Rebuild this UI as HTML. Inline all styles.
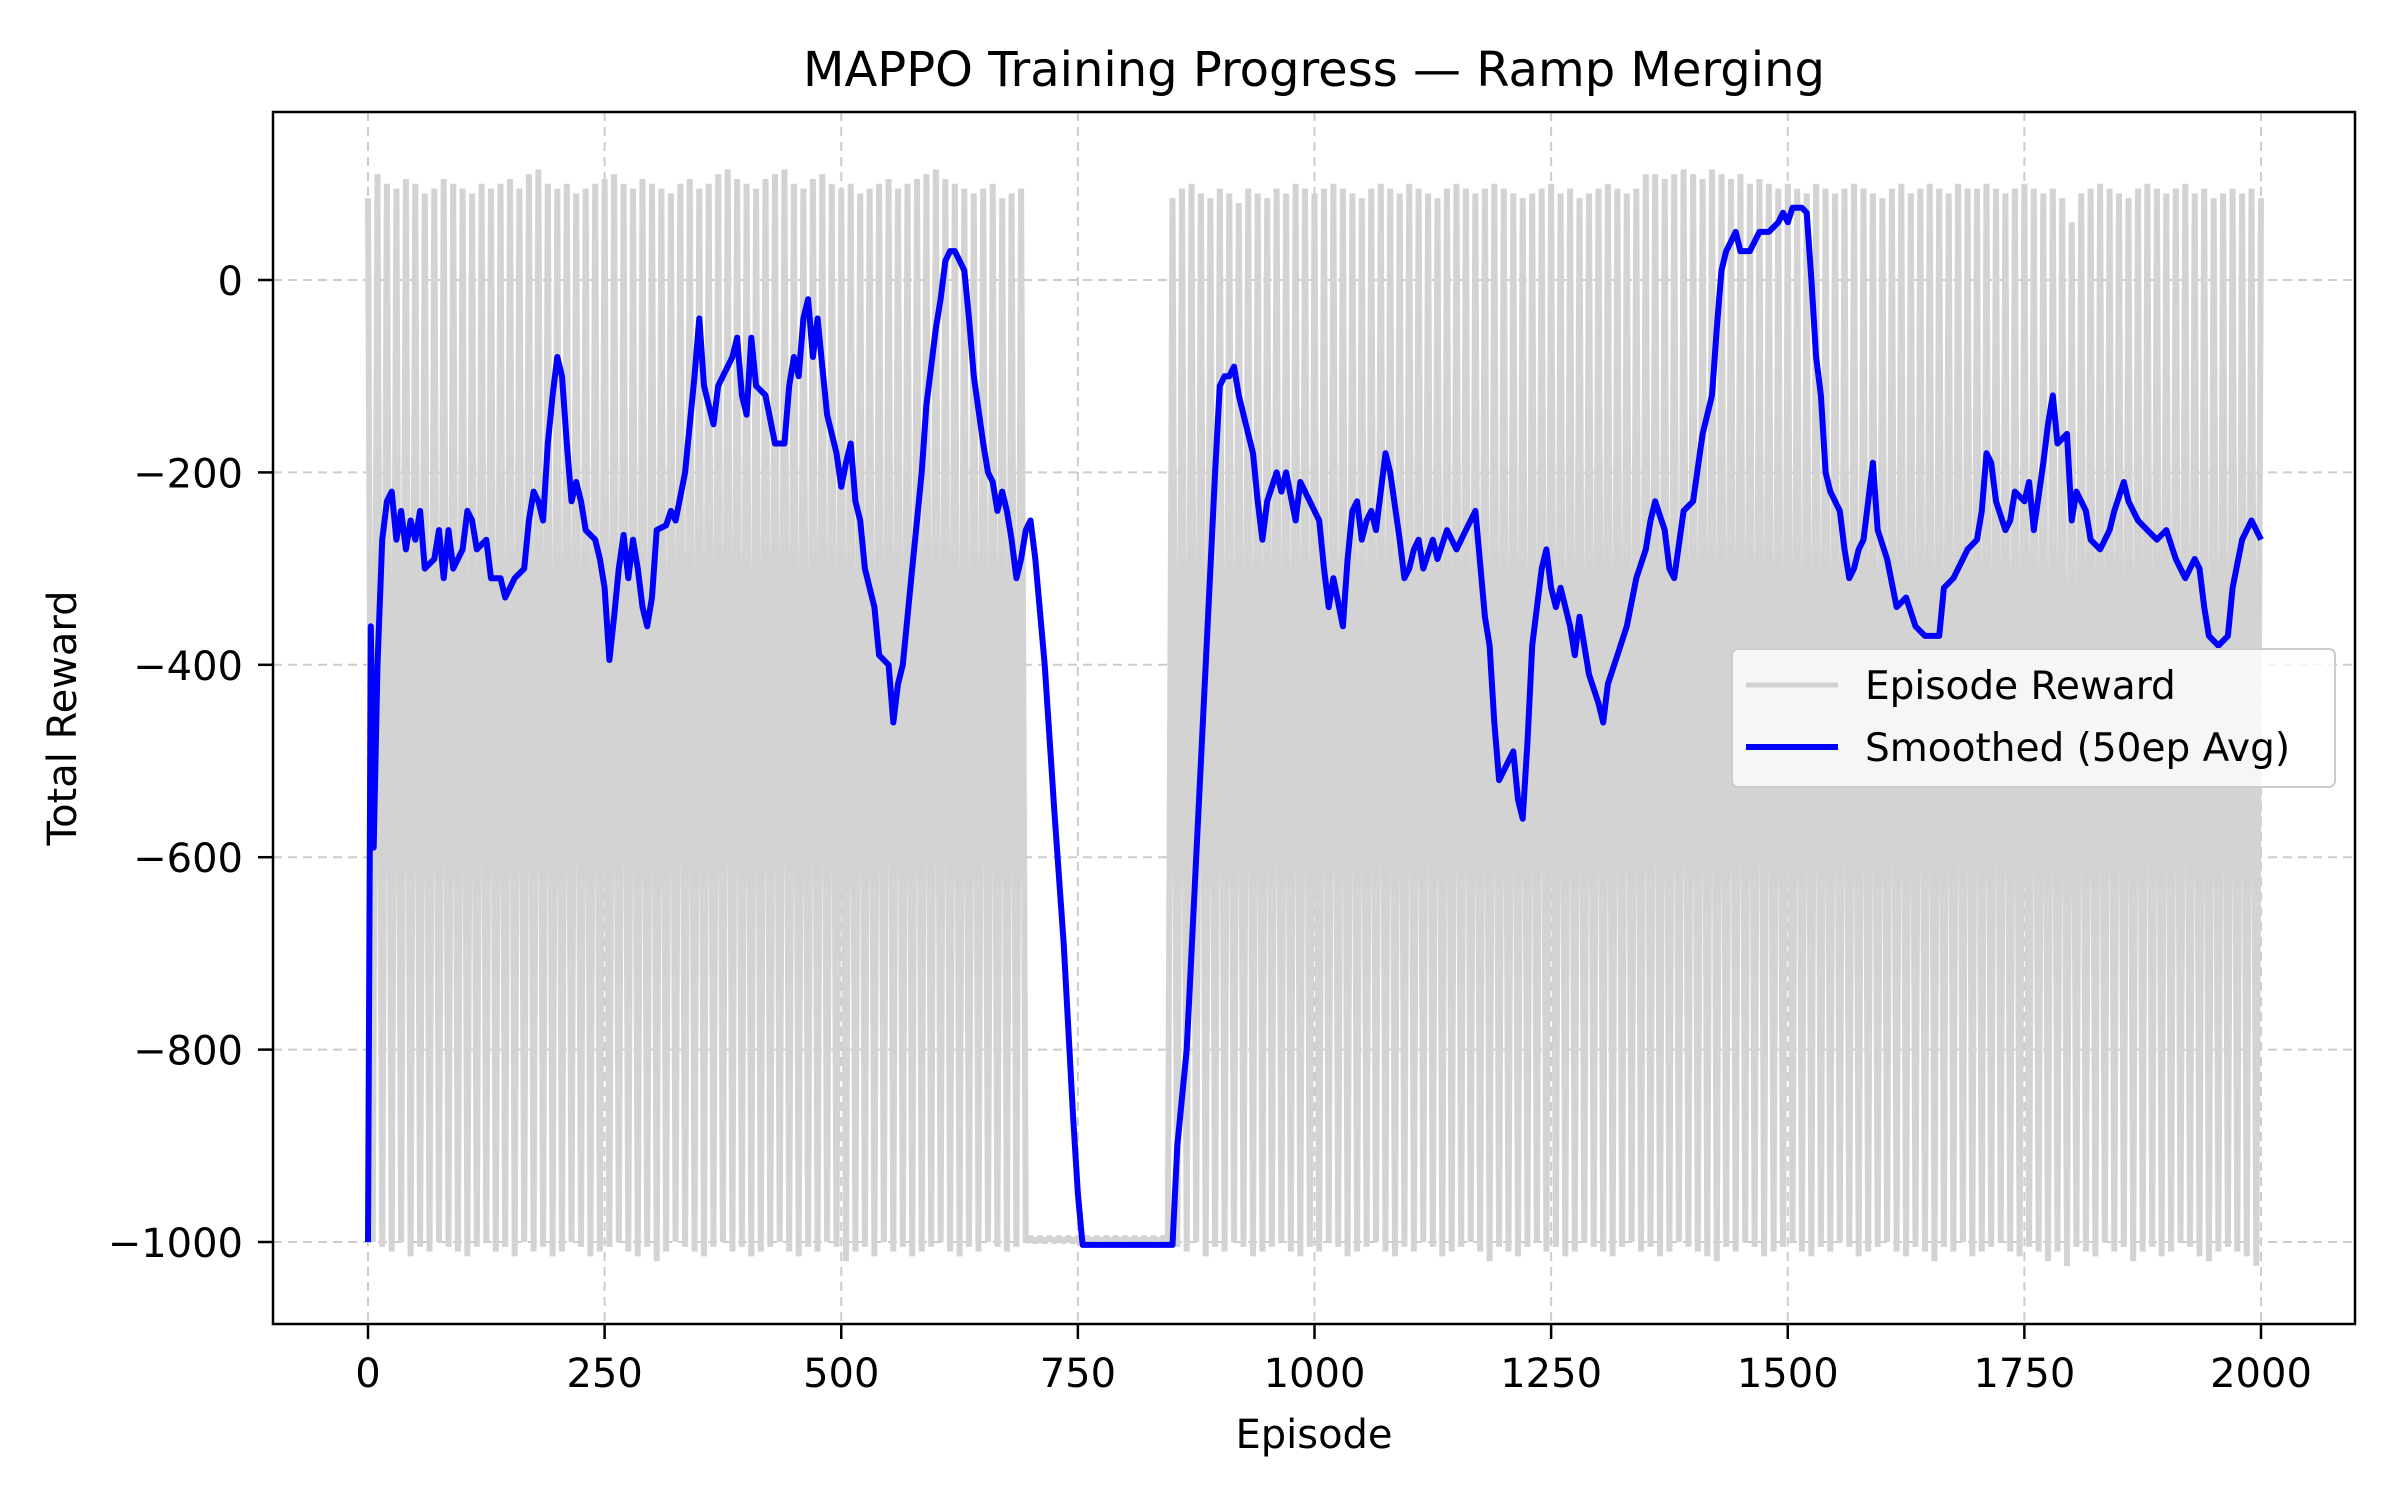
<!DOCTYPE html>
<html><head><meta charset="utf-8"><style>
html,body{margin:0;padding:0;background:#fff;}
svg text{font-family:"DejaVu Sans","Liberation Sans",sans-serif;fill:#000;}
</style></head><body>
<svg id="chart" width="2400" height="1500" viewBox="0 0 2400 1500" xmlns="http://www.w3.org/2000/svg">
<rect width="2400" height="1500" fill="#fff"/>
<g id="grid"></g>
<g id="raw"></g>
<g id="smooth"></g>
<rect x="273" y="112" width="2082" height="1212" fill="none" stroke="#000" stroke-width="2.5"/>
<g id="xticks"></g>
<g id="yticks"></g>
<text x="1314" y="86" font-size="48" text-anchor="middle">MAPPO Training Progress — Ramp Merging</text>
<text x="1314" y="1448" font-size="40" text-anchor="middle">Episode</text>
<text x="76" y="718" font-size="40" text-anchor="middle" transform="rotate(-90 76 718)">Total Reward</text>
<g>
<rect x="1732" y="649" width="603" height="138" rx="6" fill="#fff" fill-opacity="0.8" stroke="#ccc" stroke-width="2"/>
<line x1="1746" y1="685" x2="1838" y2="685" stroke="#d3d3d3" stroke-width="5"/>
<text x="1865" y="699" font-size="39">Episode Reward</text>
<line x1="1746" y1="747" x2="1838" y2="747" stroke="#0000ff" stroke-width="6"/>
<text x="1865" y="761" font-size="39">Smoothed (50ep Avg)</text>
</g>
</svg>
<script>
const xTicks=[0,250,500,750,1000,1250,1500,1750,2000];
const yTicks=[0,-200,-400,-600,-800,-1000];
const yTickLabels=["0","−200","−400","−600","−800","−1000"];
// raw episode rewards: highs at ep i*10, lows at ep i*10+5
const rawHigh=[85,110,100,95,105,100,90,95,105,100,95,90,100,95,100,105,95,110,115,100,
95,100,90,95,100,105,110,100,95,105,100,95,90,100,105,95,100,110,115,105,
100,95,105,110,115,100,95,105,110,100,95,100,90,95,100,105,95,100,105,110,
115,105,100,95,90,95,100,85,90,95,-995,-995,-995,-995,-995,-995,-995,-995,-995,-995,
-995,-995,-995,-995,-995,85,95,100,90,85,95,90,80,95,90,85,95,90,100,95,
90,95,100,95,90,85,95,100,95,90,100,95,90,85,95,100,95,90,95,100,
95,90,85,90,95,100,90,95,85,90,95,100,95,90,95,110,110,105,110,115,
110,105,115,110,105,110,100,105,100,95,100,95,90,100,95,90,95,100,95,90,
85,95,100,90,95,100,95,90,100,95,95,100,95,90,95,100,95,90,95,85,
60,90,95,100,95,90,85,95,100,95,90,95,100,90,95,85,90,95,90,95,85];
const rawLow=[-1000,-1005,-1010,-1000,-1015,-1005,-1010,-1000,-1005,-1010,-1015,-1005,-1000,-1010,-1005,-1015,-1000,-1010,-1005,-1015,
-1010,-1000,-1005,-1015,-1010,-1005,-1000,-1010,-1015,-1005,-1020,-1010,-1000,-1005,-1010,-1015,-1005,-1000,-1010,-1005,
-1015,-1010,-1005,-1000,-1010,-1015,-1005,-1010,-1000,-1005,-1020,-1010,-1005,-1015,-1000,-1010,-1005,-1015,-1010,-1005,
-1000,-1010,-1015,-1005,-1010,-1000,-1005,-1010,-1005,-1000,-1000,-1000,-1000,-1000,-1000,-1000,-1000,-1000,-1000,-1000,
-1000,-1000,-1000,-1000,-1000,-1005,-1010,-1000,-1015,-1005,-1010,-1000,-1005,-1015,-1010,-1005,-1000,-1010,-1015,-1005,
-1010,-1000,-1005,-1015,-1010,-1005,-1000,-1010,-1015,-1005,-1010,-1000,-1005,-1015,-1010,-1005,-1000,-1010,-1020,-1005,
-1010,-1015,-1005,-1000,-1010,-1005,-1015,-1010,-1000,-1005,-1010,-1015,-1005,-1000,-1010,-1005,-1015,-1010,-1000,-1005,
-1010,-1015,-1020,-1005,-1010,-1000,-1005,-1015,-1010,-1005,-1000,-1010,-1015,-1005,-1010,-1000,-1005,-1015,-1010,-1005,
-1000,-1010,-1015,-1005,-1010,-1020,-1005,-1010,-1000,-1015,-1010,-1005,-1000,-1010,-1015,-1005,-1010,-1020,-1010,-1025,
-1005,-1010,-1015,-1000,-1010,-1005,-1020,-1010,-1005,-1015,-1010,-1000,-1005,-1015,-1020,-1010,-1005,-1010,-1015,-1025,-1010];
const smoothEp=[0,3,6,10,15,20,25,30,35,40,45,50,55,60,70,75,80,85,90,100,105,110,115,125,130,140,145,155,165,170,175,180,185,190,195,200,205,210,215,220,225,230,240,245,250,255,260,265,270,275,280,285,290,295,300,305,315,320,325,335,340,345,350,355,360,365,370,375,385,390,395,400,405,410,420,430,440,445,450,455,460,465,470,475,480,485,495,500,505,510,515,520,525,530,535,540,550,555,560,565,570,575,580,585,590,600,605,610,615,620,625,630,635,640,650,655,660,665,670,675,680,685,690,695,700,705,715,725,735,745,750,755,850,855,865,875,885,895,900,905,910,915,920,930,935,940,945,950,960,965,970,980,985,990,1000,1005,1010,1015,1020,1030,1035,1040,1045,1050,1055,1060,1065,1075,1080,1090,1095,1100,1105,1110,1115,1125,1130,1140,1150,1160,1170,1180,1185,1190,1195,1200,1210,1215,1220,1225,1230,1240,1245,1250,1255,1260,1270,1275,1280,1285,1290,1300,1305,1310,1320,1330,1340,1350,1355,1360,1370,1375,1380,1390,1400,1410,1420,1425,1430,1435,1440,1445,1450,1460,1470,1480,1490,1495,1500,1505,1515,1520,1525,1530,1535,1540,1545,1555,1560,1565,1570,1575,1580,1585,1590,1595,1605,1615,1625,1635,1645,1660,1665,1675,1690,1700,1705,1710,1715,1720,1730,1735,1740,1750,1755,1760,1770,1775,1780,1785,1795,1800,1805,1815,1820,1830,1840,1845,1855,1860,1870,1880,1890,1900,1910,1920,1930,1935,1940,1945,1955,1965,1970,1980,1990,2000];
const smoothVal=[-1000,-360,-590,-400,-270,-230,-220,-270,-240,-280,-250,-270,-240,-300,-290,-260,-310,-260,-300,-280,-240,-250,-280,-270,-310,-310,-330,-310,-300,-250,-220,-230,-250,-170,-120,-80,-100,-170,-230,-210,-230,-260,-270,-290,-320,-395,-350,-300,-265,-310,-270,-300,-340,-360,-330,-260,-255,-240,-250,-200,-150,-100,-40,-110,-130,-150,-110,-100,-80,-60,-120,-140,-60,-110,-120,-170,-170,-110,-80,-100,-40,-20,-80,-40,-90,-140,-180,-215,-190,-170,-230,-250,-300,-320,-340,-390,-400,-460,-420,-400,-350,-300,-250,-200,-130,-50,-20,20,30,30,20,10,-40,-100,-170,-200,-210,-240,-220,-240,-270,-310,-290,-260,-250,-290,-400,-550,-690,-870,-950,-1003,-1003,-900,-800,-600,-400,-200,-110,-100,-100,-90,-120,-160,-180,-230,-270,-230,-200,-220,-200,-250,-210,-220,-240,-250,-300,-340,-310,-360,-290,-240,-230,-270,-250,-240,-260,-180,-200,-270,-310,-300,-280,-270,-300,-270,-290,-260,-280,-260,-240,-350,-380,-460,-520,-510,-490,-540,-560,-480,-380,-300,-280,-320,-340,-320,-360,-390,-350,-380,-410,-440,-460,-420,-390,-360,-310,-280,-250,-230,-260,-300,-310,-240,-230,-160,-120,-50,10,30,40,50,30,30,50,50,60,70,60,75,75,70,0,-80,-120,-200,-220,-240,-280,-310,-300,-280,-270,-230,-190,-260,-290,-340,-330,-360,-370,-370,-320,-310,-280,-270,-240,-180,-190,-230,-260,-250,-220,-230,-210,-260,-190,-150,-120,-170,-160,-250,-220,-240,-270,-280,-260,-240,-210,-230,-250,-260,-270,-260,-290,-310,-290,-300,-340,-370,-380,-370,-320,-270,-250,-270];

const X0=368,X1=2261,Y0=280,Y1=1242;
const xs=e=>X0+(e-0)*(X1-X0)/2000;
const ys=v=>Y0+(0-v)*(Y1-Y0)/1000;
const NS="http://www.w3.org/2000/svg";
function mk(tag,attrs,parent){const el=document.createElementNS(NS,tag);for(const k in attrs)el.setAttribute(k,attrs[k]);parent.appendChild(el);return el;}

const grid=document.getElementById('grid'),xt=document.getElementById('xticks'),yt=document.getElementById('yticks');
xTicks.forEach(t=>{
  const gl=mk('line',{x1:xs(t),x2:xs(t),y1:112,y2:1324,stroke:'#cccccc','stroke-width':2,'stroke-dasharray':'9,6'},grid);
  
  
  const tk=mk('line',{x1:xs(t),x2:xs(t),y1:1324,y2:1339,stroke:'#000','stroke-width':2.5},xt);
  
  
  const tl=mk('text',{x:xs(t),y:1387,'font-size':40,'text-anchor':'middle'},xt);
  tl.textContent=String(t);
  
  
});
yTicks.forEach((t,i)=>{
  const gl=mk('line',{x1:273,x2:2355,y1:ys(t),y2:ys(t),stroke:'#cccccc','stroke-width':2,'stroke-dasharray':'9,6'},grid);
  
  
  const tk=mk('line',{x1:258,x2:273,y1:ys(t),y2:ys(t),stroke:'#000','stroke-width':2.5},yt);
  
  
  const tl=mk('text',{x:243,y:ys(t)+15,'font-size':40,'text-anchor':'end'},yt);
  tl.textContent=yTickLabels[i];
  
  
});
let d='';
for(let i=0;i<rawHigh.length;i++){
  d+=(i?'L':'M')+xs(i*10).toFixed(1)+','+ys(rawHigh[i]).toFixed(1);
  if(i<rawLow.length && i*10+5<=2000) d+='L'+xs(i*10+5).toFixed(1)+','+ys(rawLow[i]).toFixed(1);
}
const rp=mk('path',{d:d,fill:'none',stroke:'#d3d3d3','stroke-width':6,'stroke-linejoin':'miter','stroke-miterlimit':1},document.getElementById('raw'));


let s='';
smoothEp.forEach((e,i)=>{s+=(i?'L':'M')+xs(e).toFixed(1)+','+ys(smoothVal[i]).toFixed(1);});
const sp=mk('path',{d:s,fill:'none',stroke:'#0000ff','stroke-width':6,'stroke-linejoin':'round'},document.getElementById('smooth'));


</script>
</body></html>
